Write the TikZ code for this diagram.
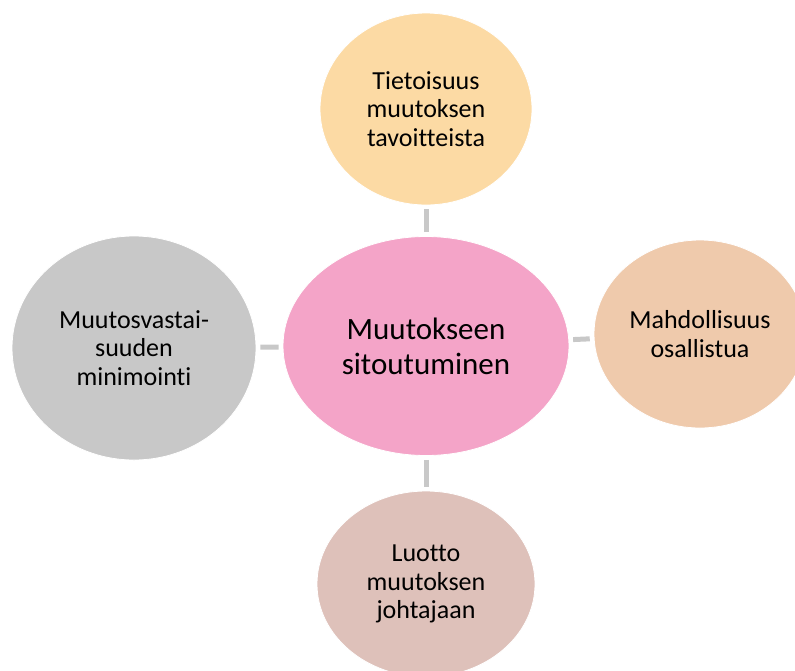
\documentclass[tikz,border=0pt]{standalone}
\usepackage{fontspec}
\setmainfont{Carlito}[Ligatures={NoCommon,NoRequired,NoContextual}]
\usetikzlibrary{shapes.geometric}

\definecolor{hubpink}{RGB}{244,164,200}
\definecolor{peachtop}{RGB}{252,218,164}
\definecolor{peachright}{RGB}{239,202,172}
\definecolor{greyleft}{RGB}{200,200,200}
\definecolor{rosebottom}{RGB}{222,193,186}
\definecolor{linkgrey}{RGB}{200,200,200}

\begin{document}
\begin{tikzpicture}[x=1pt,y=-1pt,
  bubble/.style={ellipse, inner sep=0pt, draw=white, line width=0.8pt,
    align=center, text=black, font=\fontsize{26}{28.7}\selectfont},
  hub/.style={bubble, font=\fontsize{31}{35}\selectfont},
  link/.style={draw=linkgrey, line width=5pt, shorten >=4pt, shorten <=4pt}]
\useasboundingbox (0,0) rectangle (795,670);

\node[hub, fill=hubpink, minimum width=286pt, minimum height=219pt]
  (hub) at (426,346) {Muutokseen\\sitoutuminen};
\node[bubble, fill=peachtop, minimum width=212pt, minimum height=192pt]
  (top) at (426,109) {Tietoisuus\\muutoksen\\tavoitteista};
\node[bubble, fill=peachright, minimum width=212pt, minimum height=188pt]
  (right) at (700,334) {Mahdollisuus\\osallistua};
\node[bubble, fill=greyleft, minimum width=244pt, minimum height=224pt]
  (left) at (134,348) {Muutosvastai-\\suuden\\minimointi};
\node[bubble, fill=rosebottom, minimum width=218pt, minimum height=186pt]
  (bottom) at (426,584) {Luotto\\muutoksen\\johtajaan};

\draw[link] (hub) -- (top);
\draw[link] (hub) -- (right);
\draw[link] (hub) -- (left);
\draw[link] (hub) -- (bottom);
\end{tikzpicture}
\end{document}
